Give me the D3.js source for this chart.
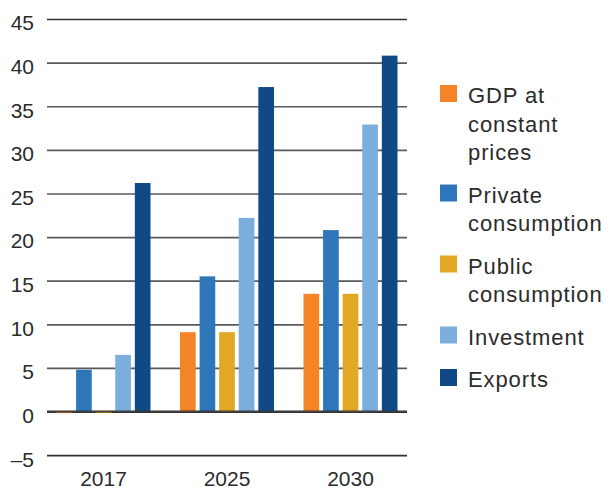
<!DOCTYPE html>
<html>
<head>
<meta charset="utf-8">
<script src="https://cdn.jsdelivr.net/npm/d3@7"></script>
<style>
  html, body { margin: 0; padding: 0; background: #fff; }
  svg { display: block; font-family: "Liberation Sans", Arial, sans-serif; }
</style>
</head>
<body>
<svg id="chart" width="609" height="491"></svg>
<script>
const years = ["2017", "2025", "2030"];
const seriesNames = ["GDP at constant prices", "Private consumption", "Public consumption", "Investment", "Exports"];
const legendLines = [["GDP at", "constant", "prices"], ["Private", "consumption"], ["Public", "consumption"], ["Investment"], ["Exports"]];
const colors = ["#F58426", "#2E75BA", "#E2A824", "#7BAEDC", "#0F4A87"];
const gdp = [-0.15, 9.1, 13.5];
const privateCons = [4.8, 15.5, 20.8];
const publicCons = [-0.15, 9.1, 13.5];
const investment = [6.5, 22.2, 32.9];
const exportsVals = [26.2, 37.2, 40.8];
const yTicks = [-5, 0, 5, 10, 15, 20, 25, 30, 35, 40, 45];

const seriesValues = [gdp, privateCons, publicCons, investment, exportsVals];

const svg = d3.select("#chart");
const mLeft = 47, mRight = 407, mTop = 19, mBottom = 455.2;

const y = d3.scaleLinear().domain([-5, 45]).range([mBottom, mTop]);
const x0 = d3.scaleBand().domain(years).range([mLeft, mRight]).paddingInner(0.239).paddingOuter(0.077);
const x1 = d3.scaleBand().domain(d3.range(seriesNames.length)).range([0, x0.bandwidth()]).paddingInner(0.2);

// gridlines
const yAxis = svg.append("g")
  .attr("transform", `translate(${mLeft},0)`)
  .call(d3.axisLeft(y).tickValues(yTicks).tickSize(-(mRight - mLeft)).tickFormat(d => d < 0 ? "\u2013" + Math.abs(d) : d));
yAxis.select(".domain").remove();
yAxis.selectAll(".tick line")
  .attr("stroke", d => (d === 0 || d === 45 || d === -5) ? "#333" : "#5a5a5a")
  .attr("stroke-width", 1.7);
yAxis.selectAll(".tick text")
  .attr("x", -13)
  .attr("dy", "0.85em")
  .attr("y", -7)
  .attr("fill", "#2b2b2b")
  .style("font-size", "21px");

// bars
const groups = svg.append("g").selectAll("g")
  .data(years)
  .join("g")
  .attr("transform", d => `translate(${x0(d)},0)`);

groups.selectAll("rect")
  .data((d, i) => seriesValues.map((vals, s) => ({ s, v: vals[i] })))
  .join("rect")
  .attr("x", d => x1(d.s))
  .attr("width", x1.bandwidth())
  .attr("y", d => y(Math.max(0, d.v)))
  .attr("height", d => Math.max(1.5, Math.abs(y(d.v) - y(0))))
  .attr("fill", d => d.v < 0 ? d3.color(colors[d.s]).darker(1.2) : colors[d.s]);

// redraw zero line above bars
svg.append("line")
  .attr("x1", mLeft).attr("x2", mRight)
  .attr("y1", y(0) - 0.5).attr("y2", y(0) - 0.5)
  .attr("stroke", "#333").attr("stroke-width", 1.4);

// x labels
svg.append("g").selectAll("text")
  .data(years)
  .join("text")
  .attr("x", d => x0(d) + x0.bandwidth() / 2)
  .attr("y", 486)
  .attr("text-anchor", "middle")
  .attr("fill", "#2b2b2b")
  .style("font-size", "21px")
  .text(d => d);

// legend
const lineH = 28.5, entryGap = 42.5;
let baseline = 103;
const legend = svg.append("g");
legendLines.forEach((lines, i) => {
  legend.append("rect")
    .attr("x", 440).attr("y", baseline - 18)
    .attr("width", 17).attr("height", 17)
    .attr("fill", colors[i]);
  const t = legend.append("text")
    .attr("x", 468).attr("y", baseline)
    .attr("fill", "#2b2b2b")
    .style("font-size", "22px")
    .style("letter-spacing", "0.9px");
  lines.forEach((ln, j) => {
    t.append("tspan").attr("x", 468).attr("y", baseline + j * lineH).text(ln);
  });
  baseline += (lines.length - 1) * lineH + entryGap;
});
</script>
</body>
</html>
